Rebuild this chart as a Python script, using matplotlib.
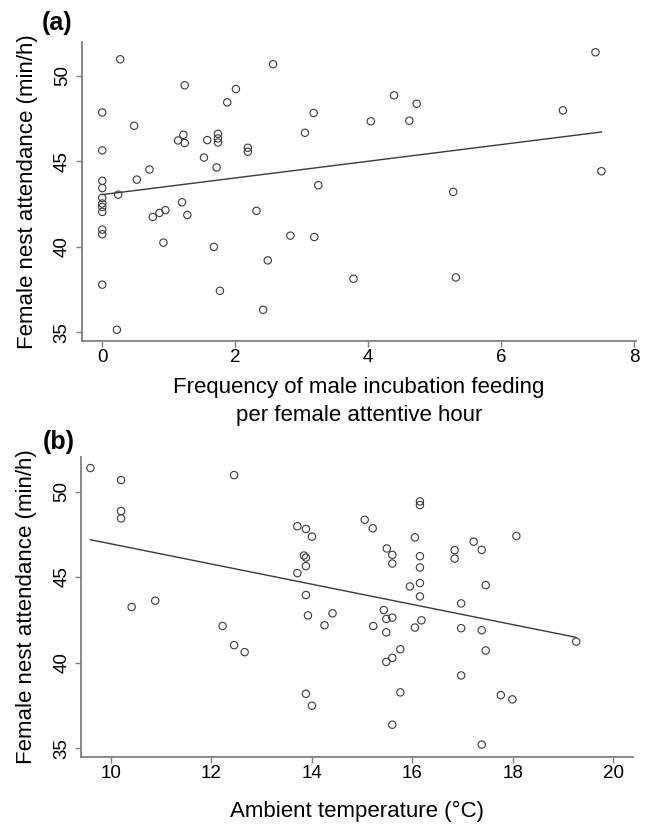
import numpy as np
import matplotlib
matplotlib.use("Agg")
import matplotlib.pyplot as plt

plt.rcParams['font.family'] = ['Liberation Sans', 'DejaVu Sans']

# Panel (a): male incubation feeding rate vs female nest attendance
feeding = [0.27, 0, 0, 0, 0, 0, 0, 0, 0, 0, 0, 0, 0.22, 0.24, 0.48, 0.52,
           0.71, 0.76, 0.86, 0.95, 0.92, 1.24, 1.14, 1.22, 1.24, 1.20, 1.28,
           1.53, 1.58, 1.72, 1.74, 1.74, 1.74, 1.68, 1.77, 1.88, 2.01, 2.19,
           2.19, 2.32, 2.49, 2.42, 2.57, 2.83, 3.05, 3.18, 3.19, 3.25, 3.78,
           4.04, 4.39, 4.62, 4.73, 5.28, 5.32, 6.93, 7.42, 7.51]
attend_a = [50.97, 47.86, 45.64, 43.86, 43.43, 42.86, 42.53, 42.33, 42.04,
            41.00, 40.73, 37.78, 35.14, 43.05, 47.08, 43.93, 44.52, 41.74,
            41.98, 42.14, 40.24, 49.45, 46.22, 46.55, 46.07, 42.60, 41.86,
            45.22, 46.24, 44.64, 46.61, 46.34, 46.10, 39.99, 37.42, 48.45,
            49.23, 45.79, 45.56, 42.10, 39.20, 36.31, 50.68, 40.65, 46.67,
            47.83, 40.57, 43.60, 38.13, 47.34, 48.86, 47.38, 48.37, 43.21,
            38.20, 47.98, 51.38, 44.42]
fit_a = (43.05, 0.488)  # intercept, slope

# Panel (b): ambient temperature vs female nest attendance
temp = [9.59, 10.20, 10.20, 10.20, 12.45, 10.41, 10.88, 12.22, 12.45, 12.66,
        13.71, 13.88, 14.00, 13.84, 13.88, 13.88, 13.71, 13.88, 13.92, 14.25,
        14.41, 13.88, 14.00, 16.15, 16.15, 15.05, 15.21, 16.05, 17.22, 18.07,
        17.38, 16.84, 16.84, 15.49, 15.60, 15.60, 16.15, 16.15, 16.15, 15.95,
        17.46, 16.15, 16.97, 15.43, 15.48, 15.60, 15.22, 15.48, 16.18, 16.05,
        16.97, 17.38, 19.26, 15.76, 15.60, 15.48, 17.46, 16.97, 15.76, 17.76,
        17.99, 15.60, 17.38]
attend_b = [51.37, 50.67, 48.86, 48.43, 50.96, 43.25, 43.62, 42.14, 41.02,
            40.61, 47.97, 47.81, 47.36, 46.26, 46.14, 45.64, 45.23, 43.95,
            42.76, 42.18, 42.88, 38.18, 37.48, 49.42, 49.21, 48.35, 47.85,
            47.32, 47.07, 47.40, 46.59, 46.57, 46.08, 46.67, 46.30, 45.79,
            46.22, 45.56, 44.65, 44.45, 44.53, 43.87, 43.46, 43.07, 42.55,
            42.63, 42.14, 41.77, 42.47, 42.05, 42.01, 41.89, 41.23, 40.78,
            40.28, 40.04, 40.71, 39.25, 38.26, 38.10, 37.85, 36.37, 35.21]
fit_b = (52.84, -0.590)

W, H = 646, 826
fig = plt.figure(figsize=(W / 100, H / 100), dpi=100)

spine_col = '#7f7f7f'
mark_col = '#3a3a3a'


def style_axes(ax):
    for s in ['top', 'right']:
        ax.spines[s].set_visible(False)
    for s in ['left', 'bottom']:
        ax.spines[s].set_color(spine_col)
        ax.spines[s].set_linewidth(1.3)
    ax.tick_params(direction='out', length=4.3, width=1.0, color=spine_col,
                   labelsize=13.5)
    ax.tick_params(axis='x', pad=1.8)
    ax.tick_params(axis='y', pad=3.8)
    ax.set_yticks([35, 40, 45, 50])
    plt.setp(ax.get_yticklabels(), rotation=90, va='center')


def panel(rect, x, y, fit, xlim, xticks, xlabel, xlab_y, tag, tag_xy):
    ax = fig.add_axes(rect)
    ax.scatter(x, y, s=28, facecolors='none', edgecolors=mark_col,
               linewidths=0.8, zorder=3)
    xs = np.array([min(x), max(x)])
    ax.plot(xs, fit[0] + fit[1] * xs, color=mark_col, lw=1.0)
    ax.set_xlim(*xlim)
    ax.set_ylim(34.5, 52.0)
    ax.set_xticks(xticks)
    style_axes(ax)
    ax.set_ylabel('Female nest attendance (min/h)', fontsize=16)
    ax.yaxis.set_label_coords(-0.099, 0.5)
    ax.yaxis.label.set_va('center')
    ax.set_xlabel(xlabel, fontsize=16, linespacing=1.4)
    ax.xaxis.set_label_coords(0.5, xlab_y)
    ax.xaxis.label.set_va('center')
    fig.text(tag_xy[0] / W, 1 - tag_xy[1] / H, tag, fontsize=18,
             fontweight='bold', ha='center', va='center')
    return ax


panel([82 / W, 1 - 340.7 / H, 554 / W, 299 / H], feeding, attend_a, fit_a,
      (-0.305, 8.03), [0, 2, 4, 6, 8],
      'Frequency of male incubation feeding\nper female attentive hour',
      -0.203, '(a)', (57.5, 23))

panel([81.4 / W, 1 - 756.7 / H, 552 / W, 299.4 / H], temp, attend_b, fit_b,
      (9.41, 20.4), [10, 12, 14, 16, 18, 20],
      'Ambient temperature (°C)', -0.184, '(b)', (59, 441.7))

fig.savefig('out.png', dpi=100)
